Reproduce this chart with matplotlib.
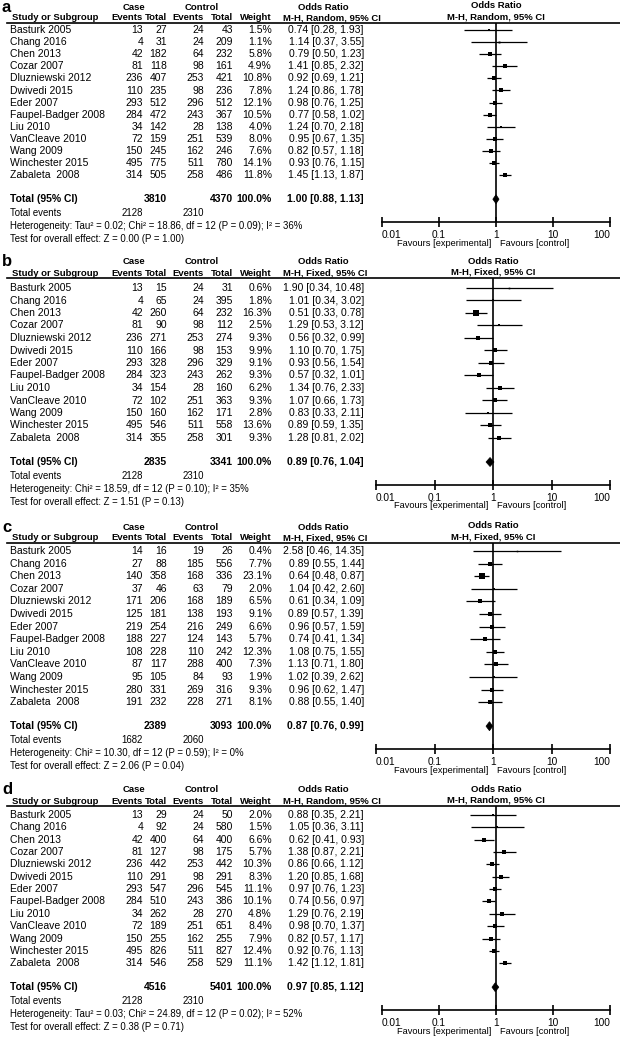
import matplotlib
matplotlib.use("Agg")
import matplotlib.pyplot as plt

plt.rcParams['font.family'] = ['Liberation Sans', 'DejaVu Sans']

W, H = 620, 1039

studies = ["Basturk 2005", "Chang 2016", "Chen 2013", "Cozar 2007", "Dluzniewski 2012",
           "Dwivedi 2015", "Eder 2007", "Faupel-Badger 2008", "Liu 2010", "VanCleave 2010",
           "Wang 2009", "Winchester 2015", "Zabaleta  2008"]
ticks = [0.01, 0.1, 1, 10, 100]
tick_labels = ["0.01", "0.1", "1", "10", "100"]

# ---- panel a ----
a_case_e = [13, 4, 42, 81, 236, 110, 293, 284, 34, 72, 150, 495, 314]
a_case_n = [27, 31, 182, 118, 407, 235, 512, 472, 142, 159, 245, 775, 505]
a_ctrl_e = [24, 24, 64, 98, 253, 98, 296, 243, 28, 251, 162, 511, 258]
a_ctrl_n = [43, 209, 232, 161, 421, 236, 512, 367, 138, 539, 246, 780, 486]
a_weight = [1.5, 1.1, 5.8, 4.9, 10.8, 7.8, 12.1, 10.5, 4.0, 8.0, 7.6, 14.1, 11.8]
a_or = [0.74, 1.14, 0.79, 1.41, 0.92, 1.24, 0.98, 0.77, 1.24, 0.95, 0.82, 0.93, 1.45]
a_lo = [0.28, 0.37, 0.50, 0.85, 0.69, 0.86, 0.76, 0.58, 0.70, 0.67, 0.57, 0.76, 1.13]
a_hi = [1.93, 3.55, 1.23, 2.32, 1.21, 1.78, 1.25, 1.02, 2.18, 1.35, 1.18, 1.15, 1.87]
a_total = (3810, 4370, 1.00, 0.88, 1.13)
a_events = (2128, 2310)
a_method = "M-H, Random, 95% CI"
a_het = "Heterogeneity: Tau\u00b2 = 0.02; Chi\u00b2 = 18.86, df = 12 (P = 0.09); I\u00b2 = 36%"
a_test = "Test for overall effect: Z = 0.00 (P = 1.00)"

# ---- panel b ----
b_case_e = [13, 4, 42, 81, 236, 110, 293, 284, 34, 72, 150, 495, 314]
b_case_n = [15, 65, 260, 90, 271, 166, 328, 323, 154, 102, 160, 546, 355]
b_ctrl_e = [24, 24, 64, 98, 253, 98, 296, 243, 28, 251, 162, 511, 258]
b_ctrl_n = [31, 395, 232, 112, 274, 153, 329, 262, 160, 363, 171, 558, 301]
b_weight = [0.6, 1.8, 16.3, 2.5, 9.3, 9.9, 9.1, 9.3, 6.2, 9.3, 2.8, 13.6, 9.3]
b_or = [1.90, 1.01, 0.51, 1.29, 0.56, 1.10, 0.93, 0.57, 1.34, 1.07, 0.83, 0.89, 1.28]
b_lo = [0.34, 0.34, 0.33, 0.53, 0.32, 0.70, 0.56, 0.32, 0.76, 0.66, 0.33, 0.59, 0.81]
b_hi = [10.48, 3.02, 0.78, 3.12, 0.99, 1.75, 1.54, 1.01, 2.33, 1.73, 2.11, 1.35, 2.02]
b_total = (2835, 3341, 0.89, 0.76, 1.04)
b_events = (2128, 2310)
b_method = "M-H, Fixed, 95% CI"
b_het = "Heterogeneity: Chi\u00b2 = 18.59, df = 12 (P = 0.10); I\u00b2 = 35%"
b_test = "Test for overall effect: Z = 1.51 (P = 0.13)"

# ---- panel c ----
c_case_e = [14, 27, 140, 37, 171, 125, 219, 188, 108, 87, 95, 280, 191]
c_case_n = [16, 88, 358, 46, 206, 181, 254, 227, 228, 117, 105, 331, 232]
c_ctrl_e = [19, 185, 168, 63, 168, 138, 216, 124, 110, 288, 84, 269, 228]
c_ctrl_n = [26, 556, 336, 79, 189, 193, 249, 143, 242, 400, 93, 316, 271]
c_weight = [0.4, 7.7, 23.1, 2.0, 6.5, 9.1, 6.6, 5.7, 12.3, 7.3, 1.9, 9.3, 8.1]
c_or = [2.58, 0.89, 0.64, 1.04, 0.61, 0.89, 0.96, 0.74, 1.08, 1.13, 1.02, 0.96, 0.88]
c_lo = [0.46, 0.55, 0.48, 0.42, 0.34, 0.57, 0.57, 0.41, 0.75, 0.71, 0.39, 0.62, 0.55]
c_hi = [14.35, 1.44, 0.87, 2.60, 1.09, 1.39, 1.59, 1.34, 1.55, 1.80, 2.62, 1.47, 1.40]
c_total = (2389, 3093, 0.87, 0.76, 0.99)
c_events = (1682, 2060)
c_method = "M-H, Fixed, 95% CI"
c_het = "Heterogeneity: Chi\u00b2 = 10.30, df = 12 (P = 0.59); I\u00b2 = 0%"
c_test = "Test for overall effect: Z = 2.06 (P = 0.04)"

# ---- panel d ----
d_case_e = [13, 4, 42, 81, 236, 110, 293, 284, 34, 72, 150, 495, 314]
d_case_n = [29, 92, 400, 127, 442, 291, 547, 510, 262, 189, 255, 826, 546]
d_ctrl_e = [24, 24, 64, 98, 253, 98, 296, 243, 28, 251, 162, 511, 258]
d_ctrl_n = [50, 580, 400, 175, 442, 291, 545, 386, 270, 651, 255, 827, 529]
d_weight = [2.0, 1.5, 6.6, 5.7, 10.3, 8.3, 11.1, 10.1, 4.8, 8.4, 7.9, 12.4, 11.1]
d_or = [0.88, 1.05, 0.62, 1.38, 0.86, 1.20, 0.97, 0.74, 1.29, 0.98, 0.82, 0.92, 1.42]
d_lo = [0.35, 0.36, 0.41, 0.87, 0.66, 0.85, 0.76, 0.56, 0.76, 0.70, 0.57, 0.76, 1.12]
d_hi = [2.21, 3.11, 0.93, 2.21, 1.12, 1.68, 1.23, 0.97, 2.19, 1.37, 1.17, 1.13, 1.81]
d_total = (4516, 5401, 0.97, 0.85, 1.12)
d_events = (2128, 2310)
d_method = "M-H, Random, 95% CI"
d_het = "Heterogeneity: Tau\u00b2 = 0.03; Chi\u00b2 = 24.89, df = 12 (P = 0.02); I\u00b2 = 52%"
d_test = "Test for overall effect: Z = 0.38 (P = 0.71)"

panels = [
    ("a", a_case_e, a_case_n, a_ctrl_e, a_ctrl_n, a_weight, a_or, a_lo, a_hi, a_total, a_events, a_method, a_het, a_test),
    ("b", b_case_e, b_case_n, b_ctrl_e, b_ctrl_n, b_weight, b_or, b_lo, b_hi, b_total, b_events, b_method, b_het, b_test),
    ("c", c_case_e, c_case_n, c_ctrl_e, c_ctrl_n, c_weight, c_or, c_lo, c_hi, c_total, c_events, c_method, c_het, c_test),
    ("d", d_case_e, d_case_n, d_ctrl_e, d_ctrl_n, d_weight, d_or, d_lo, d_hi, d_total, d_events, d_method, d_het, d_test),
]

# layout (pixels): top of panel, first row y, row spacing, forest x-range
layout = [
    dict(top=0, row0=30, dy=12.1, fx0=382, fx1=610),
    dict(top=255, row0=288, dy=12.5, fx0=376, fx1=610),
    dict(top=520, row0=551, dy=12.6, fx0=376, fx1=610),
    dict(top=783, row0=815, dy=12.35, fx0=382, fx1=610),
]

fig = plt.figure(figsize=(W / 100, H / 100), dpi=100)
ax0 = fig.add_axes([0, 0, 1, 1])
ax0.set_xlim(0, W)
ax0.set_ylim(H, 0)
ax0.axis('off')

FS = 7.5
FS_HEAD = 6.8
FS_FOOT = 6.9
FS_FAV = 6.7
X_NAME = 10
X_CE, X_CN, X_KE, X_KN, X_W, X_OR = 143, 167, 204, 233, 272, 364

for (letter, ce, cn, ke, kn, wt, orv, lo, hi, tot, ev, meth, het, test), L in zip(panels, layout):
    t = L['top']
    y_case = t + 7
    y_head = t + 18
    y_line = t + 23
    rows = [L['row0'] + L['dy'] * i for i in range(len(studies))]
    y_tot = rows[-1] + 24
    y_ev = y_tot + 14
    y_het = y_ev + 13
    y_test = y_het + 13
    y_axis = y_ev + 9

    hb = dict(fontsize=FS_HEAD, fontweight='bold', va='center')
    ax0.text(2, t + 7, letter, fontsize=12, fontweight='bold', ha='left', va='center')
    ax0.text(134, y_case, "Case", ha='center', **hb)
    ax0.text(202, y_case, "Control", ha='center', **hb)
    ax0.text(323, y_case, "Odds Ratio", ha='center', **hb)
    ax0.text(12, y_head, "Study or Subgroup", ha='left', **hb)
    ax0.text(X_CE, y_head, "Events", ha='right', **hb)
    ax0.text(X_CN, y_head, "Total", ha='right', **hb)
    ax0.text(X_KE, y_head, "Events", ha='right', **hb)
    ax0.text(X_KN, y_head, "Total", ha='right', **hb)
    ax0.text(X_W, y_head, "Weight", ha='right', **hb)
    ax0.text(283, y_head, meth, ha='left', **hb)
    ax0.plot([7, 620], [y_line, y_line], color='black', lw=1.2)

    for i, name in enumerate(studies):
        y = rows[i]
        ax0.text(X_NAME, y, name, fontsize=FS, ha='left', va='center')
        ax0.text(X_CE, y, str(ce[i]), fontsize=FS, ha='right', va='center')
        ax0.text(X_CN, y, str(cn[i]), fontsize=FS, ha='right', va='center')
        ax0.text(X_KE, y, str(ke[i]), fontsize=FS, ha='right', va='center')
        ax0.text(X_KN, y, str(kn[i]), fontsize=FS, ha='right', va='center')
        ax0.text(X_W, y, f"{wt[i]:.1f}%", fontsize=FS, ha='right', va='center')
        ax0.text(X_OR, y, f"{orv[i]:.2f} [{lo[i]:.2f}, {hi[i]:.2f}]", fontsize=FS, ha='right', va='center')

    tb = dict(fontsize=FS, fontweight='bold', va='center')
    ax0.text(X_NAME, y_tot, "Total (95% CI)", ha='left', **tb)
    ax0.text(X_CN, y_tot, str(tot[0]), ha='right', **tb)
    ax0.text(X_KN, y_tot, str(tot[1]), ha='right', **tb)
    ax0.text(X_W, y_tot, "100.0%", ha='right', **tb)
    ax0.text(X_OR, y_tot, f"{tot[2]:.2f} [{tot[3]:.2f}, {tot[4]:.2f}]", ha='right', **tb)
    ax0.text(X_NAME, y_ev, "Total events", fontsize=FS_FOOT, ha='left', va='center')
    ax0.text(X_CE, y_ev, str(ev[0]), fontsize=FS_FOOT, ha='right', va='center')
    ax0.text(X_KE, y_ev, str(ev[1]), fontsize=FS_FOOT, ha='right', va='center')
    ax0.text(X_NAME, y_het, het, fontsize=FS_FOOT, ha='left', va='center')
    ax0.text(X_NAME, y_test, test, fontsize=FS_FOOT, ha='left', va='center')

    # forest axes
    fx0, fx1 = L['fx0'], L['fx1']
    ax = fig.add_axes([fx0 / W, 1 - y_axis / H, (fx1 - fx0) / W, (y_axis - y_line) / H])
    ax.set_xscale('log')
    ax.set_xlim(0.01, 100)
    ax.set_ylim(y_axis, y_line)
    ax.patch.set_alpha(0)
    for s in ('top', 'left', 'right'):
        ax.spines[s].set_visible(False)
    ax.spines['bottom'].set_linewidth(1.2)
    ax.set_xticks(ticks)
    labs = ax.set_xticklabels(tick_labels, fontsize=7.3)
    labs[0].set_ha('left')
    labs[-1].set_ha('right')
    ax.minorticks_off()
    ax.tick_params(axis='x', direction='inout', length=7, width=1.2, pad=2)
    ax.set_yticks([])
    ax.axvline(1, color='black', lw=1.2)
    for i in range(len(studies)):
        ax.plot([lo[i], hi[i]], [rows[i], rows[i]], color='black', lw=0.9, solid_capstyle='butt')
        ax.plot(orv[i], rows[i], 's', color='black', ms=0.75 * wt[i] ** 0.5 + 0.6, mew=0)
    ax.fill([tot[3], tot[2], tot[4], tot[2]], [y_tot, y_tot - 4.5, y_tot, y_tot + 4.5],
            color='black', lw=0.5)

    xc = (fx0 + fx1) / 2
    ax0.text(xc, y_case - 1, "Odds Ratio", ha='center', **hb)
    ax0.text(xc, y_head - 1, meth, ha='center', **hb)
    ax0.text(xc - 5, y_axis + 21, "Favours [experimental]", fontsize=FS_FAV, ha='right', va='center')
    ax0.text(xc + 4, y_axis + 21, "Favours [control]", fontsize=FS_FAV, ha='left', va='center')

fig.savefig("out.png", dpi=100)
